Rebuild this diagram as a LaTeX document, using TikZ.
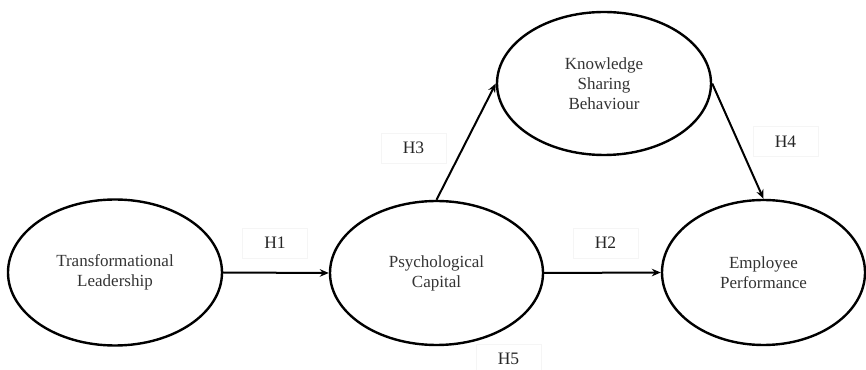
\documentclass[tikz,border=0pt]{standalone}
\usepackage{fontspec}
\setmainfont{Liberation Serif}
\usetikzlibrary{shapes.geometric,arrows.meta}
\begin{document}
\begin{tikzpicture}[x=1pt,y=1pt,
  construct/.style={ellipse,draw=black,line width=2.4pt,inner sep=0pt,
    align=center,font=\fontsize{17}{20}\selectfont,text=black!80},
  hyp/.style={draw=black!4,line width=0.7pt,minimum width=65pt,minimum height=30pt,
    inner sep=0pt,font=\fontsize{17.5}{20}\selectfont,text=black!85},
  link/.style={line width=2pt,-{Stealth[length=9pt,width=7.5pt]}}]
\useasboundingbox (0,0) rectangle (866,369);
\node[construct,minimum width=214pt,minimum height=146pt] (tl) at (115,96.5) {Transformational\\Leadership};
\node[construct,minimum width=213pt,minimum height=144pt] (pc) at (436.5,96) {Psychological\\Capital};
\node[construct,minimum width=214pt,minimum height=143pt] (ksb) at (604,285.5) {Knowledge\\Sharing\\Behaviour};
\node[construct,minimum width=203pt,minimum height=145pt] (ep) at (763.5,96.5) {Employee\\Performance};
\node[hyp] (h1) at (275,126) {H1};
\node[hyp] (h2) at (605.5,126) {H2};
\node[hyp] (h3) at (413.5,221) {H3};
\node[hyp] (h4) at (785.5,227.5) {H4};
\node[hyp] (h5) at (508.5,10) {H5};
\draw[link] (tl.east) -- (pc.west);
\draw[link] (pc.east) -- (ep.west);
\draw[link] (pc.north) -- (ksb.west);
\draw[link] (ksb.east) -- (ep.north);
\end{tikzpicture}
\end{document}
